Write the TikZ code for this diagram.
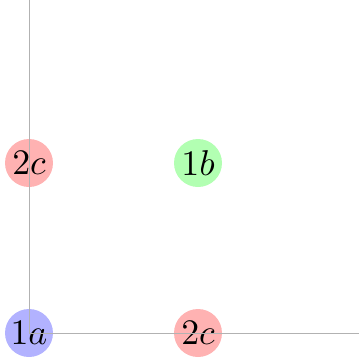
\documentclass[tikz,border=0pt]{standalone}
\usepackage{graphicx}
\tikzset{
  dot/.style={circle, minimum size=48bp, inner sep=0pt, fill opacity=0.3, text opacity=1},
  axis/.style={draw=black!30, line width=0.8bp}
}
\newcommand{\biglabel}[1]{\scalebox{3.6}{$#1$}}
\begin{document}
\begin{tikzpicture}[x=1bp, y=-1bp]
\useasboundingbox (0,0) rectangle (359,364);
\coordinate (o) at (29,333);
\coordinate (ytop) at (29,0);
\coordinate (xend) at (359,333);
\node[dot, fill=blue] (a1) at (29,333) {\biglabel{1a}};
\node[dot, fill=red] (c1) at (198,333) {\biglabel{2c}};
\node[dot, fill=red] (c2) at (29,163) {\biglabel{2c}};
\node[dot, fill=green] (b1) at (198,163) {\biglabel{1b}};
\draw[axis] (ytop) -- (o) -- (xend);
\end{tikzpicture}
\end{document}
